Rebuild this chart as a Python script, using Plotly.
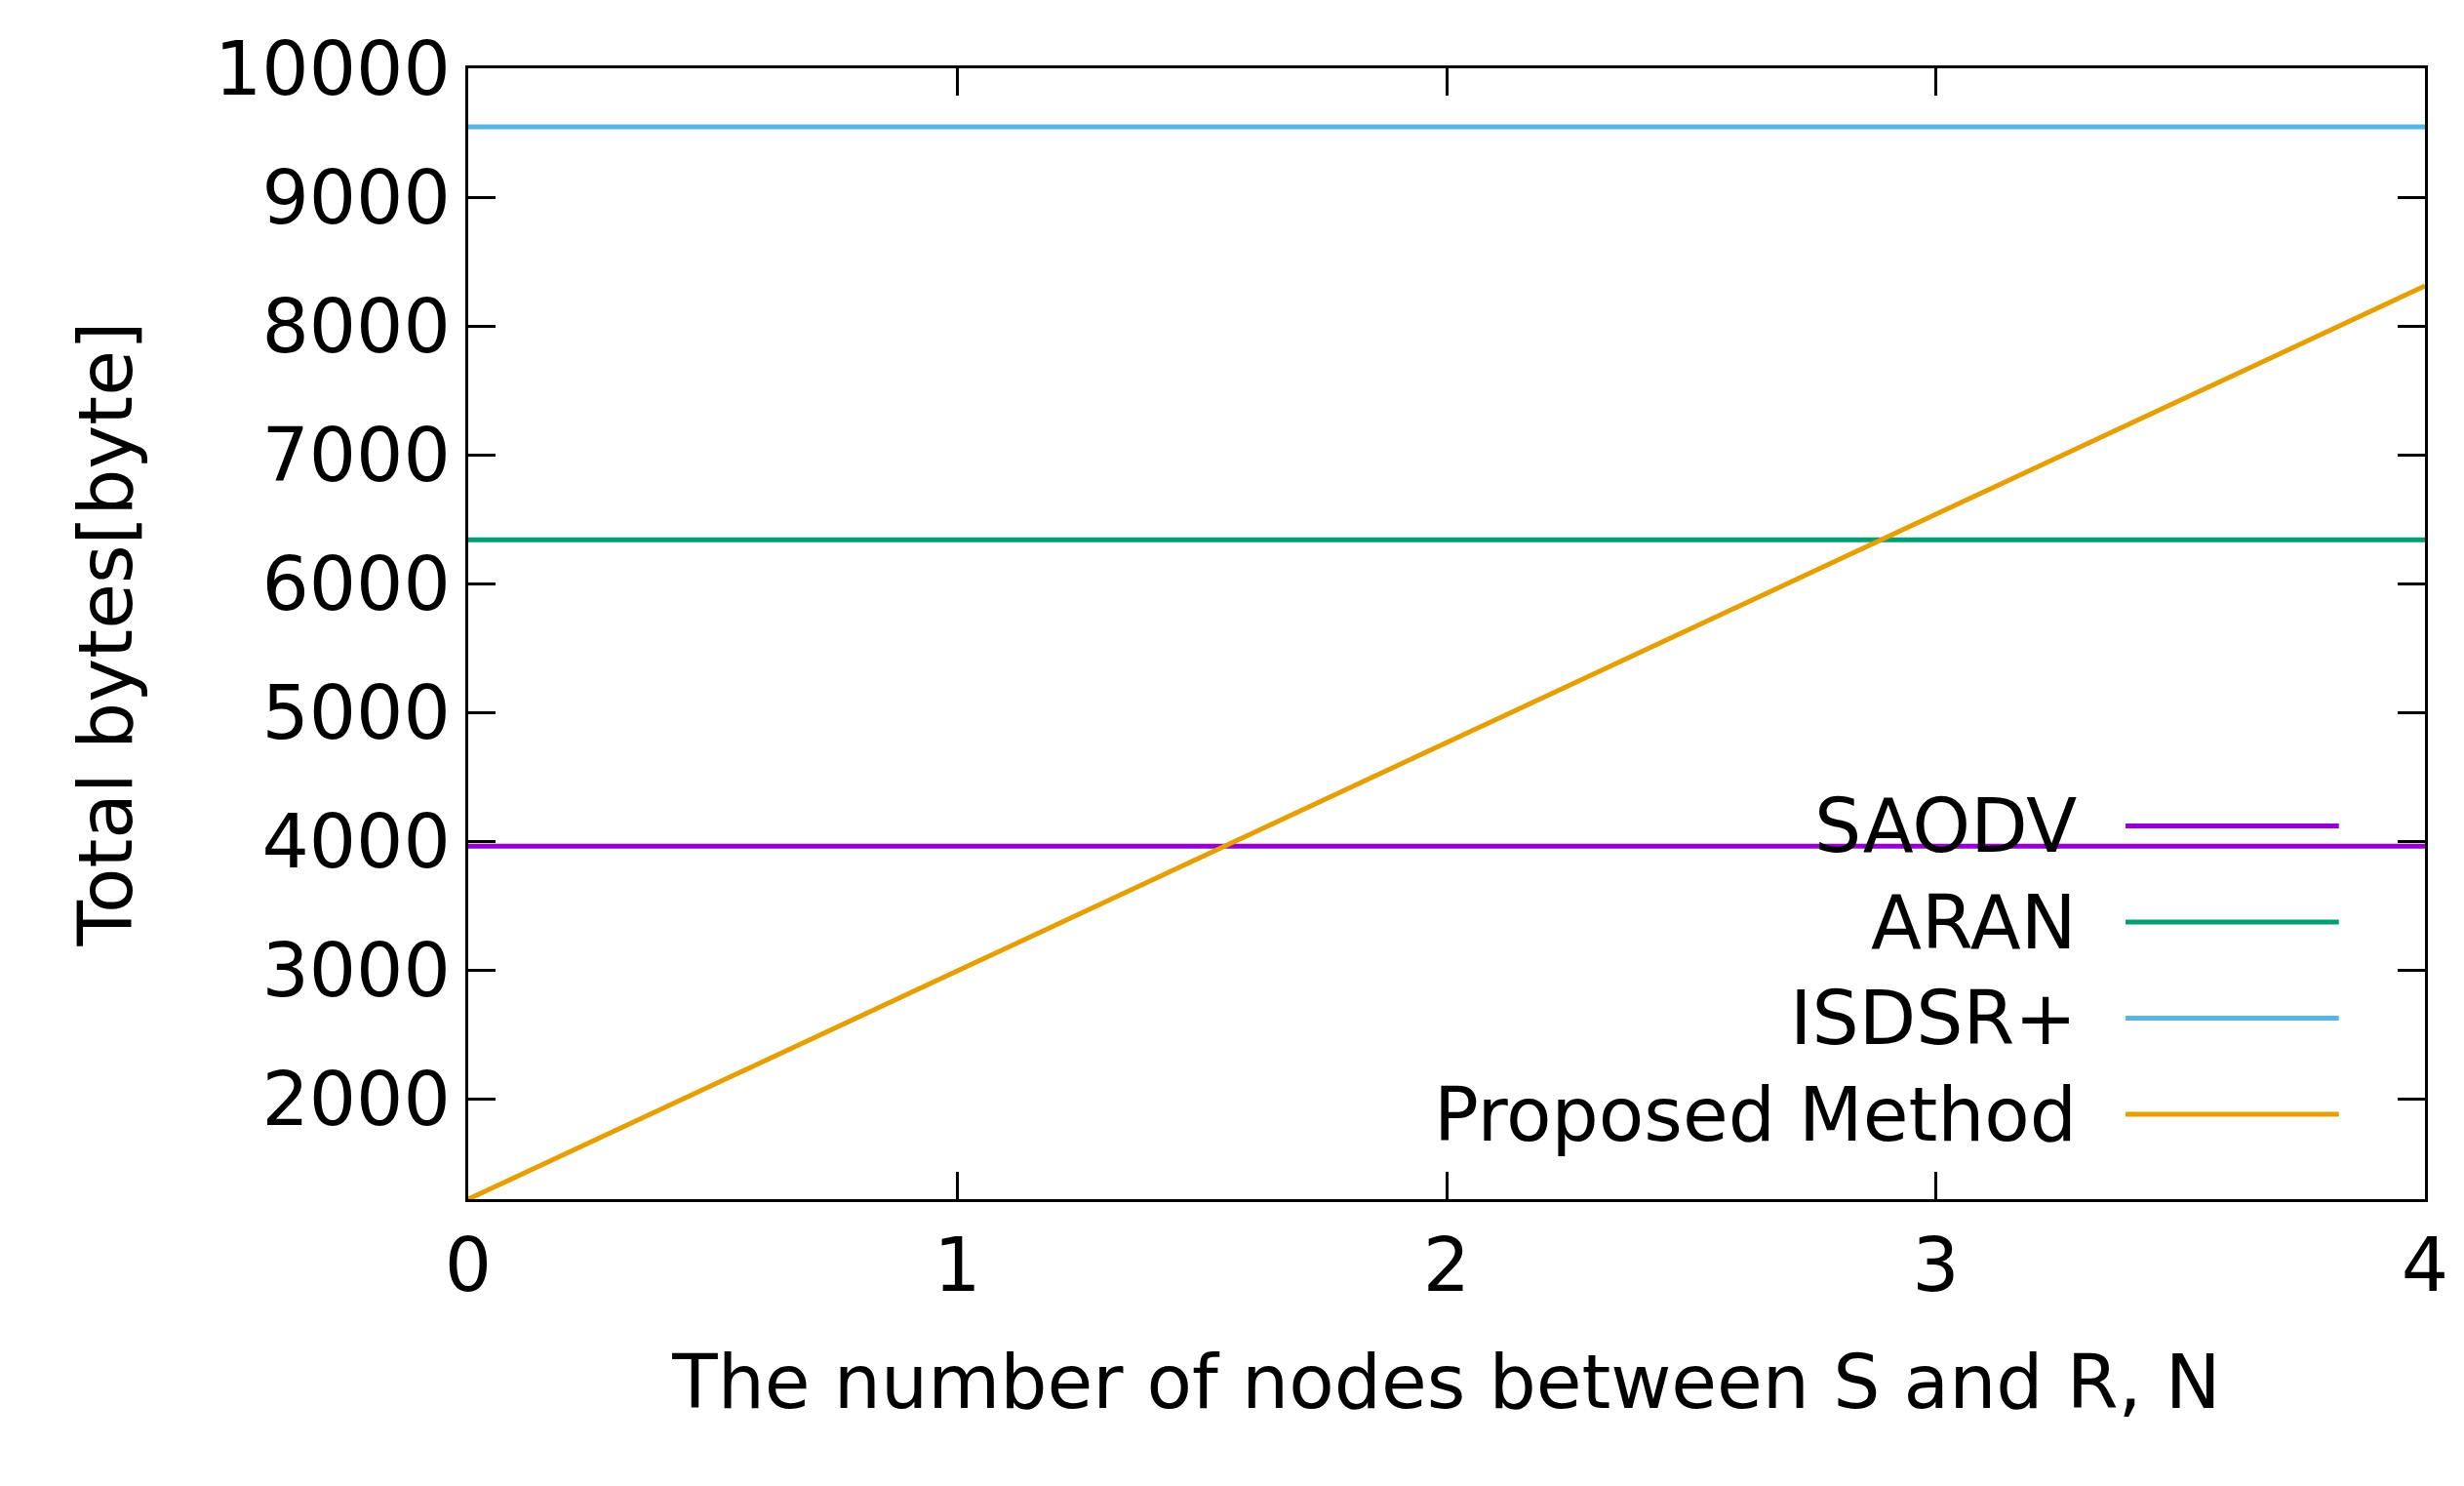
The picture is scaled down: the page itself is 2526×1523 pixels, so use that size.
import plotly.graph_objects as go

names = ["SAODV", "ARAN", "ISDSR+", "Proposed Method"]
colors = ["#9400d3", "#009e73", "#56b4e9", "#e69f00"]
x_vals = [0, 4]
saodv = [3960, 3960]
aran = [6340, 6340]
isdsr = [9545, 9545]
proposed = [1220, 8310]
series = [saodv, aran, isdsr, proposed]
y_ticks = [2000, 3000, 4000, 5000, 6000, 7000, 8000, 9000, 10000]

F = "DejaVu Sans"
FS = 76
fig = go.Figure()
for n, c, s in zip(names, colors, series):
    fig.add_trace(go.Scatter(x=x_vals, y=s, mode="lines", name=n,
                             line=dict(color=c, width=5), showlegend=False))

leg_y = [0.330, 0.245, 0.160, 0.075]
for n, c, ly in zip(names, colors, leg_y):
    fig.add_annotation(x=0.823, y=ly, xref="paper", yref="paper", text=n,
                       showarrow=False, xanchor="right", yanchor="middle",
                       font=dict(family=F, size=FS, color="black"))
    fig.add_shape(type="line", xref="paper", yref="paper", x0=0.847, x1=0.956,
                  y0=ly, y1=ly, line=dict(color=c, width=5))

ax = dict(showline=True, mirror="ticks", linecolor="black", linewidth=3,
          ticks="inside", ticklen=28, tickwidth=3, tickcolor="black",
          showgrid=False, zeroline=False, tickfont=dict(family=F, size=FS, color="black"))
fig.update_xaxes(range=[0, 4], dtick=1, title=dict(text="The number of nodes between S and R, N",
                 font=dict(family=F, size=FS, color="black"), standoff=50), **ax)
fig.update_yaxes(range=[1220, 10000], tickvals=y_ticks, ticktext=[str(v) for v in y_ticks],
                 title=dict(text="Total bytes[byte]", font=dict(family=F, size=FS, color="black"), standoff=60), **ax)
fig.update_layout(width=2526, height=1523, plot_bgcolor="white", paper_bgcolor="white",
                  margin=dict(l=472, r=48, t=62, b=302))
fig.write_html("out.html")
